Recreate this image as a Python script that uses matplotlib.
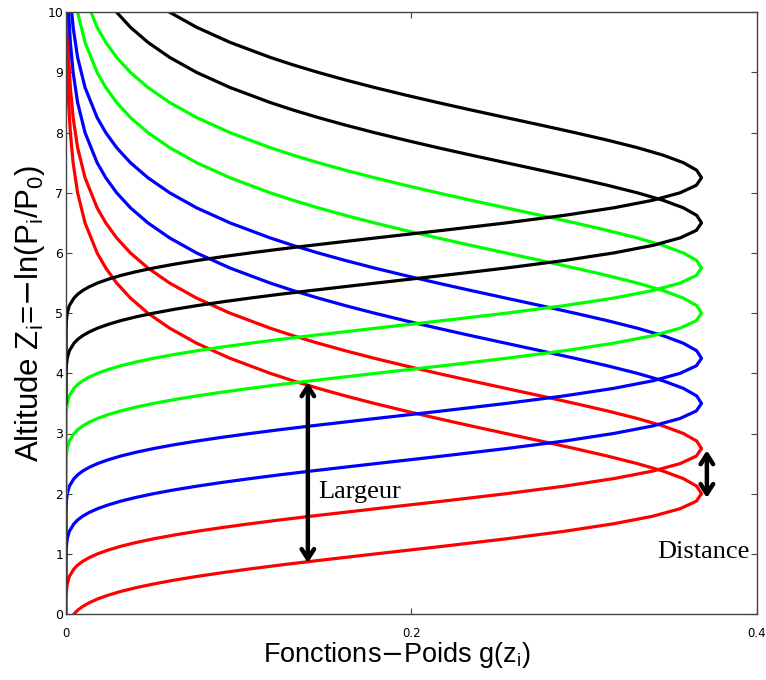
import numpy as np
import matplotlib
matplotlib.use("Agg")
import matplotlib.pyplot as plt

# shape of one weighting function:
# offset from the peak altitude (dz) and the function value g
profile_dz = [-3.0, -2.5, -2.375, -2.25, -2.125, -2.0, -1.9375, -1.875, -1.8125, -1.75,
              -1.6875, -1.625, -1.5625, -1.5, -1.4375, -1.375, -1.3125, -1.25, -1.1875, -1.125,
              -1.0, -0.875, -0.75, -0.625, -0.5, -0.375, -0.25,
              -0.125, 0.0, 0.125, 0.25, 0.375, 0.5, 0.625, 0.75, 0.875, 1.0,
              1.125, 1.25, 1.375, 1.5, 1.625, 1.75, 1.875, 2.0, 2.25, 2.5,
              2.75, 3.0, 3.25, 3.5, 3.75, 4.0, 4.5, 5.0, 5.5, 6.0,
              6.5, 7.0, 7.5, 8.0, 9.0, 10.0]
profile_g = [0.0, 0.0001, 0.0002, 0.0007, 0.0019, 0.0046, 0.0067, 0.0096, 0.0134, 0.0182,
             0.0243, 0.0316, 0.0404, 0.0507, 0.0625, 0.0758, 0.0905, 0.1065, 0.1235, 0.1416,
             0.1794, 0.2179, 0.2549, 0.2885, 0.3170, 0.3396, 0.3555,
             0.3649, 0.3679, 0.3651, 0.3574, 0.3457, 0.3307, 0.3134, 0.2945, 0.2748, 0.2546,
             0.2346, 0.2151, 0.1964, 0.1785, 0.1617, 0.1460, 0.1315, 0.1182, 0.0949, 0.0756,
             0.0600, 0.0474, 0.0373, 0.0293, 0.0230, 0.0180, 0.0110, 0.0067, 0.0041, 0.0025,
             0.0015, 0.0009, 0.00055, 0.0003, 0.0001, 0.0]

# peak altitude of each channel and its colour
peaks = [2.0, 2.75, 3.5, 4.25, 5.0, 5.75, 6.5, 7.25]
colors = ["#ff0000", "#ff0000", "#0000ff", "#0000ff",
          "#00ff00", "#00ff00", "#000000", "#000000"]

# annotations
largeur_x, largeur_z = 0.14, (0.85, 3.85)
distance_x, distance_z = 0.371, (1.93, 2.72)

x_ticks = [0, 0.2, 0.4]
y_ticks = list(range(0, 11))

fig = plt.figure(figsize=(7.66, 6.8), dpi=100)
ax = fig.add_axes([0.0862, 0.097, 0.902, 0.885])

dz = np.array(profile_dz)
g = np.array(profile_g)
for zp, c in zip(peaks, colors):
    ax.plot(g, zp + dz, color=c, lw=2.3, solid_capstyle="round",
            solid_joinstyle="round")

ax.set_xlim(0, 0.4)
ax.set_ylim(0, 10)
ax.set_xticks(x_ticks)
ax.set_xticklabels(["0", "0.2", "0.4"])
ax.set_yticks(y_ticks)
ax.tick_params(direction="in", top=True, right=True, length=4, width=0.8,
               colors="#444444", labelcolor="black")
ax.tick_params(axis="x", labelsize=8.5, pad=9)
ax.tick_params(axis="y", labelsize=9, pad=2)
for sp in ax.spines.values():
    sp.set_color("#444444")
    sp.set_linewidth(1.0)

arrow_kw = dict(arrowstyle="<->,head_length=0.7,head_width=0.45",
                color="black", lw=3.2, shrinkA=0, shrinkB=0)
ax.annotate("", xy=(largeur_x, largeur_z[0]), xytext=(largeur_x, largeur_z[1]),
            arrowprops=arrow_kw)
ax.annotate("", xy=(distance_x, distance_z[0]), xytext=(distance_x, distance_z[1]),
            arrowprops=arrow_kw)

ax.text(0.146, 2.03, "Largeur", family="Liberation Serif", fontsize=19,
        ha="left", va="center")
ax.text(0.396, 1.03, "Distance", family="Liberation Serif", fontsize=19,
        ha="right", va="center")

ax.set_ylabel(r"Altitude Z$_\mathregular{i}$=$-$ln(P$_\mathregular{i}$/P$_\mathregular{0}$)",
              family="Liberation Sans", fontsize=22.5, labelpad=0)
ax.set_xlabel(r"Fonctions$-$Poids g(z$_\mathregular{i}$)",
              family="Liberation Sans", fontsize=19.5)
ax.xaxis.set_label_coords(0.479, -0.043)

fig.savefig("out.png", dpi=100, facecolor="white")
